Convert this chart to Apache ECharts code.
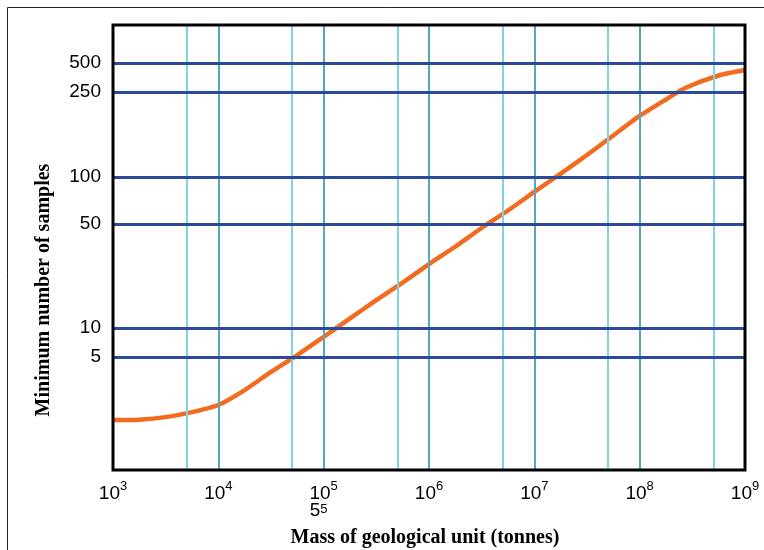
<!DOCTYPE html>
<html>
<head>
<meta charset="utf-8">
<script src="https://cdn.jsdelivr.net/npm/echarts@6/dist/echarts.min.js"></script>
<style>
  html, body { margin: 0; padding: 0; background: #fff; }
  #chart { width: 764px; height: 550px; }
</style>
</head>
<body>
<div id="chart"></div>
<script>
// ---- data ----
const massTonnes = [1e3, 1.78e3, 3.16e3, 5.62e3, 1e4, 1.78e4, 3.16e4, 5.62e4, 1e5, 1.78e5, 3.16e5, 5.62e5,
  1e6, 1.78e6, 3.16e6, 5.62e6, 1e7, 1.78e7, 3.16e7, 5.62e7, 1e8, 1.78e8, 2.7e8, 5.62e8, 1e9];
const minSamples = [1.10, 1.11, 1.18, 1.33, 1.58, 2.26, 3.49, 5.24, 8.07, 11.6, 15.4, 20.2,
  26.9, 35.3, 47.0, 61.0, 80.2, 103.8, 126.8, 156.5, 193.1, 230.6, 275, 371, 423];
const yTickValues = [5, 10, 50, 100, 250, 500];
const yTickLabels = ['5', '10', '50', '100', '250', '500'];
const xDecades = [1e4, 1e5, 1e6, 1e7, 1e8];
const xFives = [5e3, 5e4, 5e5, 5e6, 5e7, 5e8];

// ---- the original's non-uniform vertical scale (piecewise log) ----
const scaleAnchorVals = [1, 5, 10, 50, 100, 250, 500];
const scaleAnchorPos = [46, 113, 142, 246, 293, 378, 407];
const SCALE_MAX = 445;
function toPos(v) {
  const lv = Math.log10(v);
  const la = scaleAnchorVals.map(Math.log10);
  let i = 0;
  if (lv <= la[0]) i = 0;
  else if (lv >= la[la.length - 1]) i = la.length - 2;
  else { while (lv > la[i + 1]) i++; }
  const t = (lv - la[i]) / (la[i + 1] - la[i]);
  return scaleAnchorPos[i] + t * (scaleAnchorPos[i + 1] - scaleAnchorPos[i]);
}

const SANS = '"Liberation Sans Narrow", "Liberation Sans", Arial, sans-serif';
const SERIF = '"Liberation Serif", "Times New Roman", serif';

const chart = echarts.init(document.getElementById('chart'));

const richX = {
  b: { fontSize: 19, fontFamily: SANS, color: '#000', lineHeight: 23, verticalAlign: 'bottom' },
  s: { fontSize: 13, fontFamily: SANS, color: '#000', lineHeight: 13, verticalAlign: 'top' },
  b2: { fontSize: 19, fontFamily: SANS, color: '#000', lineHeight: 17, verticalAlign: 'bottom' },
  s2: { fontSize: 13, fontFamily: SANS, color: '#000', lineHeight: 13, verticalAlign: 'top' },
  sp: { width: 10, lineHeight: 17 }
};

const option = {
  animation: false,
  backgroundColor: '#fff',
  grid: { left: 113, right: 19, top: 25, bottom: 80, show: true, borderColor: '#000', borderWidth: 3, backgroundColor: 'transparent', z: 10 },
  xAxis: {
    type: 'log', logBase: 10, min: 1e3, max: 1e9,
    axisLine: { show: false }, axisTick: { show: false }, splitLine: { show: false },
    axisLabel: {
      margin: 10,
      showMinLabel: true, showMaxLabel: true,
      formatter: function (v) {
        const e = Math.round(Math.log10(v));
        let s = '{b|10}{s|' + e + '}';
        if (e === 5) s += '\n{b2|5}{s2|5}{sp| }';
        return s;
      },
      rich: richX
    }
  },
  yAxis: {
    type: 'value', min: 0, max: SCALE_MAX,
    axisLine: { show: false }, axisTick: { show: false }, splitLine: { show: false },
    axisLabel: {
      customValues: yTickValues.map(toPos),
      margin: 12, fontSize: 19, fontFamily: SANS, color: '#000',
      formatter: function (v) {
        for (let i = 0; i < yTickValues.length; i++) {
          if (Math.abs(toPos(yTickValues[i]) - v) < 0.5) return yTickLabels[i];
        }
        return '';
      }
    }
  },
  graphic: [
    { type: 'rect', z: -10, shape: { x: 7.5, y: 7.5, width: 800, height: 600 }, style: { fill: 'none', stroke: '#222', lineWidth: 1 } },
    { type: 'text', x: 425, y: 538, style: { text: 'Mass of geological unit (tonnes)', font: 'bold 20px ' + SERIF, fill: '#000', align: 'center', verticalAlign: 'middle', textAlign: 'center', textVerticalAlign: 'middle' } },
    { type: 'text', x: 44, y: 290, rotation: Math.PI / 2, style: { text: 'Minimum number of samples', font: 'bold 20px ' + SERIF, fill: '#000', align: 'center', verticalAlign: 'middle', textAlign: 'center', textVerticalAlign: 'middle' } }
  ],
  series: [
    {
      type: 'line', data: [], z: 1, silent: true,
      markLine: {
        silent: true, symbol: ['none', 'none'], label: { show: false }, animation: false,
        data: xFives.map(v => ({ xAxis: v, lineStyle: { color: '#80d4e2', width: 2, type: 'solid' } }))
          .concat(xDecades.map(v => ({ xAxis: v, lineStyle: { color: '#57a9b8', width: 2, type: 'solid' } })))
      }
    },
    {
      type: 'line', data: [], z: 2, silent: true,
      markLine: {
        silent: true, symbol: ['none', 'none'], label: { show: false }, animation: false,
        data: yTickValues.map(v => ({ yAxis: toPos(v), lineStyle: { color: '#2b4a9b', width: 3, type: 'solid' } }))
      }
    },
    {
      type: 'line', z: 3, showSymbol: false, smooth: 0.2,
      lineStyle: { color: '#f26b21', width: 4.5 },
      data: massTonnes.map((m, i) => [m, toPos(minSamples[i])])
    }
  ]
};
chart.setOption(option);
</script>
</body>
</html>
